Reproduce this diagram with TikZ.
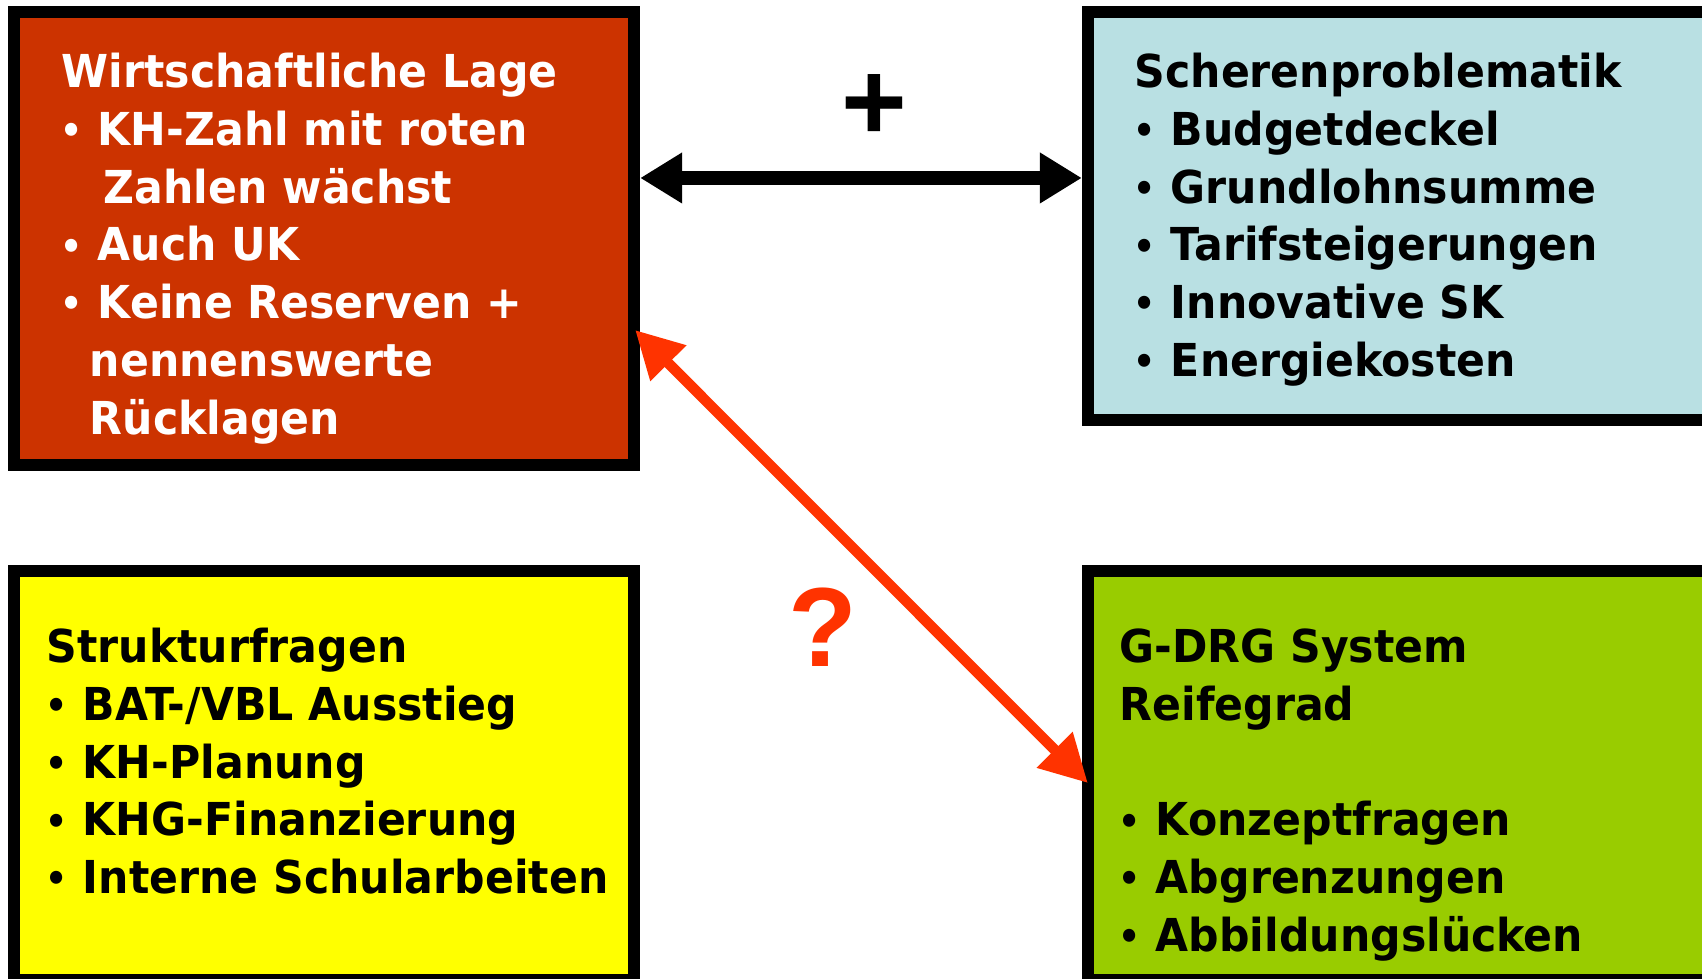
\documentclass[tikz,border=0pt]{standalone}
\usepackage{fontspec}
\setsansfont{DejaVu Sans}[FakeStretch=0.94]
\newfontfamily\signfont{Liberation Sans}
\usetikzlibrary{arrows.meta}
\definecolor{lagered}{RGB}{204, 51, 0}
\definecolor{scherblue}{RGB}{185, 224, 227}
\definecolor{strukyellow}{RGB}{255, 255, 0}
\definecolor{drggreen}{RGB}{153, 204, 0}
\definecolor{askred}{RGB}{255, 51, 0}
\newcommand{\pkt}{\makebox[10.3pt][l]{\hspace{-0.4pt}\raisebox{0.5pt}{\fontsize{10.5pt}{10pt}\selectfont•}}}
\newcommand{\kopf}{\rule{0pt}{10.5pt}}

\begin{document}
\begin{tikzpicture}[x=0.01cm, y=-0.01cm,
  panel/.style={rectangle, draw=black, line width=3.41pt, inner sep=0pt},
  txt/.style={anchor=north west, inner sep=0pt, align=left,
    font=\sffamily\bfseries\fontsize{12.9pt}{16.42pt}\selectfont},
  dbl/.style={{Triangle[length=4.2mm, width=4.8mm]}-{Triangle[length=4.2mm, width=4.8mm]},
    line width=1.4mm},
  ask/.style={{Triangle[length=4.7mm, width=4.8mm]}-{Triangle[length=4.7mm, width=4.8mm]},
    line width=1.05mm, color=askred}
]
\useasboundingbox (0,0) rectangle (1702,978);
\clip (0,0) rectangle (1702,978);

% the four panels
\node[panel, fill=lagered, minimum width=6.2cm, minimum height=4.53cm]
  (lage) at (324,238.5) {};
\node[panel, fill=scherblue, minimum width=6.21cm, minimum height=4.08cm]
  (schere) at (1398.5,216) {};
\node[panel, fill=strukyellow, minimum width=6.2cm, minimum height=4.09cm]
  (struktur) at (324,775.5) {};
\node[panel, fill=drggreen, minimum width=6.21cm, minimum height=4.09cm]
  (drg) at (1398.5,775.5) {};

\node[txt, text=white] (lagetxt) at (61,50) {\kopf Wirtschaftliche Lage\\
  \pkt KH-Zahl mit roten\\
  \hspace*{12pt}Zahlen wächst\\
  \pkt Auch UK\\
  \pkt Keine Reserven +\\
  \hspace*{8pt}nennenswerte\\
  \hspace*{8pt}Rücklagen};
\node[txt] (scheretxt) at (1134,50) {\kopf Scherenproblematik\\
  \pkt Budgetdeckel\\
  \pkt Grundlohnsumme\\
  \pkt Tarifsteigerungen\\
  \pkt Innovative SK\\
  \pkt Energiekosten};
\node[txt] (strukturtxt) at (46,625) {\kopf Strukturfragen\\
  \pkt BAT-/VBL Ausstieg\\
  \pkt KH-Planung\\
  \pkt KHG-Finanzierung\\
  \pkt Interne Schularbeiten};
\node[txt] (drgtxt) at (1119,625) {\kopf G-DRG System\\
  Reifegrad\\[16.42pt]
  \pkt Konzeptfragen\\
  \pkt Abgrenzungen\\
  \pkt Abbildungslücken};

% connectors
\draw[dbl] ([yshift=6.05mm]lage.east) -- ([yshift=6.05mm]lage.east -| schere.west);
\draw[ask] ([xshift=-0.5mm, yshift=-9.15mm]lage.east)
  -- ([xshift=0.6mm, yshift=-0.75mm]drg.west);

\node[font=\signfont\bfseries\fontsize{32pt}{38pt}\selectfont, inner sep=0pt]
  (plus) at (874.5,107) {+};
\node[font=\signfont\bfseries\fontsize{32pt}{38pt}\selectfont, text=askred, inner sep=0pt]
  (frage) at (823,627) {?};
\end{tikzpicture}
\end{document}
